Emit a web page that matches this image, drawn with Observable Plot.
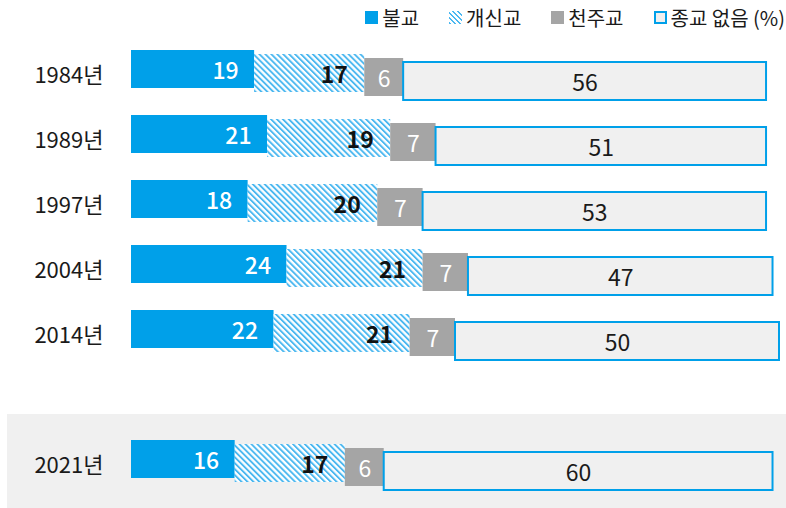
<!DOCTYPE html>
<html>
<head>
<meta charset="utf-8">
<script src="https://cdn.jsdelivr.net/npm/d3@7"></script>
<script src="https://cdn.jsdelivr.net/npm/@observablehq/plot@0.6"></script>
<style>
  body { margin: 0; background: white; font-family: "Noto Sans CJK KR", "Noto Sans", sans-serif; }
  #wrap { position: relative; width: 786px; height: 508px; overflow: hidden; }
  #band { position: absolute; left: 7px; top: 414px; width: 779px; height: 94px; background: #f0f0f0; }
  #chart { position: absolute; left: 0; top: 0; }
  #legend { position: absolute; top: 0; right: 1px; height: 34px; display: flex; align-items: center;
            font-size: 20px; color: #1a1a1a; }
  .item { display: flex; align-items: center; margin-left: 30px; }
  .item:first-child { margin-left: 0; }
  .sw { width: 13px; height: 13px; margin-right: 4px; box-sizing: border-box; }
</style>
</head>
<body>
<div id="wrap">
  <div id="band"></div>
  <div id="chart"></div>
  <div id="legend"></div>
</div>
<script>
const years = ["1984년", "1989년", "1997년", "2004년", "2014년", "2021년"];
const buddhism = [19, 21, 18, 24, 22, 16];
const protestant = [17, 19, 20, 21, 21, 17];
const catholic = [6, 7, 7, 7, 7, 6];
const noReligion = [56, 51, 53, 47, 50, 60];
const seriesNames = ["불교", "개신교", "천주교", "종교 없음 (%)"];

const BLUE = "#00a0e9";
const HATCH = "#4cb8f0";
const GRAY = "#a5a5a5";
const BOX = "#f0f0f0";

const seriesValues = [buddhism, protestant, catholic, noReligion];
const rows = [];
years.forEach((y, i) => {
  let acc = 0;
  seriesValues.forEach((vals, k) => {
    const v = vals[i];
    rows.push({year: y, series: seriesNames[k], k, value: v, x1: acc, x2: acc + v, mid: acc + v / 2});
    acc += v;
  });
});

const spacer = " ";
const domainY = [...years.slice(0, 5), spacer, years[5]];
const pi = 1 - 38 / 65;
const offs = [-6, -2, 2, 6];
const bySeries = k => rows.filter(d => d.k === k);

const fills = [BLUE, "url(#hatch)", GRAY, BOX];

const marks = [];
[0, 1, 2, 3].forEach(k => {
  marks.push(Plot.barX(bySeries(k), {
    y: "year", x1: "x1", x2: "x2", dy: offs[k],
    fill: fills[k],
    stroke: k === 3 ? BLUE : "none",
    strokeWidth: 2
  }));
});
marks.push(Plot.text(bySeries(0), {y: "year", x: "x2", text: d => String(d.value), textAnchor: "end",
  dx: -16, dy: offs[0] + 2, fill: "white", fontSize: 23, fontWeight: 500}));
marks.push(Plot.text(bySeries(1), {y: "year", x: "x2", text: d => String(d.value), textAnchor: "end",
  dx: -17, dy: offs[1] + 2, fill: "#111", fontSize: 23, fontWeight: "bold"}));
marks.push(Plot.text(bySeries(2), {y: "year", x: "mid", text: d => String(d.value),
  dy: offs[2] + 2, fill: "white", fontSize: 23}));
marks.push(Plot.text(bySeries(3), {y: "year", x: "mid", text: d => String(d.value),
  dy: offs[3] + 2, fill: "#1a1a1a", fontSize: 23}));
marks.push(Plot.axisY({ticks: years, tickSize: 0, tickPadding: 28, fontSize: 22, fill: "#1a1a1a", label: null}));

const plot = Plot.plot({
  width: 786,
  height: 508,
  marginLeft: 131,
  marginRight: 7,
  marginTop: 42.5,
  marginBottom: 10.5,
  style: {background: "none", fontFamily: "'Noto Sans CJK KR', 'Noto Sans', sans-serif", fontSize: "22px", color: "#1a1a1a"},
  x: {domain: [0, 100], axis: null},
  y: {domain: domainY, paddingInner: pi, paddingOuter: pi / 2, axis: null},
  marks
});

// hatch pattern
const svg = d3.select(plot.tagName.toLowerCase() === "svg" ? plot : plot.querySelector("svg"));
const defs = svg.insert("defs", ":first-child");
const pat = defs.append("pattern").attr("id", "hatch").attr("patternUnits", "userSpaceOnUse")
  .attr("width", 4.2).attr("height", 4.2).attr("patternTransform", "rotate(-45)");
pat.append("rect").attr("width", 4.2).attr("height", 4.2).attr("fill", "white");
pat.append("rect").attr("width", 1.9).attr("height", 4.2).attr("fill", HATCH);

document.getElementById("chart").appendChild(plot);

// legend
const legend = document.getElementById("legend");
const swStyles = [
  `background:${BLUE};`,
  `background: repeating-linear-gradient(45deg, ${HATCH} 0 1.6px, #ffffff 1.6px 3.6px);`,
  `background:${GRAY};`,
  `background:${BOX}; border:2px solid ${BLUE};`
];
seriesNames.forEach((name, k) => {
  const it = document.createElement("div");
  it.className = "item";
  const sw = document.createElement("div");
  sw.className = "sw";
  sw.style.cssText = swStyles[k];
  const tx = document.createElement("span");
  tx.textContent = name;
  it.appendChild(sw);
  it.appendChild(tx);
  legend.appendChild(it);
});
</script>
</body>
</html>
